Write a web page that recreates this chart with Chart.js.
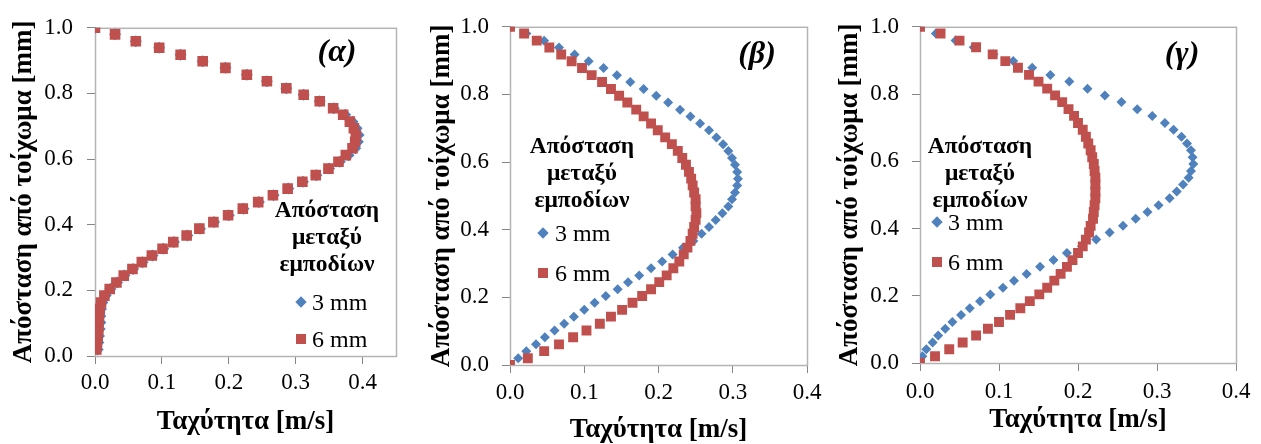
<!DOCTYPE html>
<html lang="el">
<head>
<meta charset="UTF-8" />
<title>Προφίλ ταχύτητας</title>
<script src="https://cdn.jsdelivr.net/npm/chart.js"></script>
<style>
  body {
    margin: 0;
    background: #fff;
    width: 1261px;
    height: 444px;
    position: relative;
    overflow: hidden;
    font-family: 'Liberation Serif', 'Times New Roman', serif;
    color: #000;
  }
  canvas { position: absolute; top: 0; }
  .tag {
    position: absolute;
    font-weight: bold; font-style: italic; font-size: 32px;
    transform: translate(-50%, -50%);
    white-space: nowrap;
  }
  .ltitle {
    position: absolute;
    font-weight: bold; font-size: 23.5px; line-height: 27px;
    text-align: center;
    transform: translateX(-50%);
    white-space: nowrap;
  }
  .entry {
    position: absolute;
    font-size: 24px; line-height: 26px;
    transform: translateY(-50%);
    white-space: nowrap;
  }
  .mk { position: absolute; }
</style>
</head>
<body>

<canvas id="chartA" width="420" height="444" style="left:0px"></canvas>
<canvas id="chartB" width="410" height="444" style="left:420px"></canvas>
<canvas id="chartG" width="431" height="444" style="left:830px"></canvas>

<div class="tag" style="left:337px;top:50px">(α)</div>
<div class="tag" style="left:757px;top:52px">(β)</div>
<div class="tag" style="left:1182px;top:52px">(γ)</div>

<div id="legends"></div>

<script>
// y positions (distance from wall, mm), top to bottom
const Y = [1.000, 0.980, 0.959, 0.939, 0.918, 0.898, 0.878, 0.857, 0.837, 0.816,
           0.796, 0.776, 0.755, 0.735, 0.714, 0.694, 0.673, 0.653, 0.633, 0.612,
           0.592, 0.571, 0.551, 0.531, 0.510, 0.490, 0.469, 0.449, 0.429, 0.408,
           0.388, 0.367, 0.347, 0.327, 0.306, 0.286, 0.265, 0.245, 0.224, 0.204,
           0.184, 0.163, 0.143, 0.122, 0.102, 0.082, 0.061, 0.041, 0.020, 0.000];

const X_TICKS = [0, 0.1, 0.2, 0.3, 0.4];
const Y_TICKS = [0, 0.2, 0.4, 0.6, 0.8, 1.0];
const SERIES = ['3 mm', '6 mm'];

// (α) - both series almost on top of each other, no point at y = 0
const A_3MM = [0, .030, .061, .096, .128, .161, .195, .227, .257, .286,
               .312, .336, .357, .374, .385, .391, .394, .393, .389, .379,
               .366, .350, .331, .311, .289, .267, .245, .222, .200, .178,
               .157, .138, .118, .102, .086, .071, .057, .044, .033, .023,
               .016, .011, .009, .008, .008, .007, .006, .005, .004];
const A_6MM = [0, .030, .061, .096, .128, .161, .195, .227, .257, .286,
               .312, .336, .356, .371, .381, .387, .390, .389, .385, .375,
               .364, .349, .330, .310, .288, .266, .244, .221, .199, .177,
               .156, .137, .117, .101, .085, .070, .056, .043, .032, .022,
               .014, .009, .007, .006, .005, .005, .004, .003, .002];

// (β)
const B_3MM = [0, .022, .046, .066, .087, .106, .126, .144, .162, .180,
               .197, .213, .229, .243, .256, .268, .278, .287, .294, .299,
               .303, .306, .307, .306, .303, .299, .294, .286, .277, .268,
               .258, .247, .233, .219, .205, .190, .174, .159, .145, .129,
               .114, .100, .086, .073, .060, .047, .035, .022, .011, 0];
const B_6MM = [0, .019, .036, .053, .069, .083, .097, .110, .124, .136,
               .147, .158, .170, .180, .190, .199, .209, .218, .226, .232,
               .237, .241, .244, .246, .248, .250, .250, .251, .250, .248,
               .246, .243, .239, .234, .228, .220, .211, .201, .190, .178,
               .165, .151, .136, .121, .103, .085, .066, .046, .024, 0];

// (γ)
const G_3MM = [0, .020, .045, .068, .093, .118, .142, .165, .189, .212,
               .234, .255, .275, .294, .310, .321, .331, .338, .343, .345,
               .346, .343, .340, .333, .325, .316, .302, .288, .273, .257,
               .240, .223, .205, .186, .169, .152, .135, .119, .105, .089,
               .076, .063, .052, .041, .032, .023, .016, .008, .003, 0];
const G_6MM = [0, .026, .050, .071, .092, .108, .124, .138, .150, .161,
               .171, .180, .188, .195, .200, .206, .210, .213, .216, .218,
               .220, .221, .222, .222, .222, .222, .221, .220, .219, .216,
               .214, .210, .206, .200, .193, .186, .178, .170, .161, .151,
               .139, .127, .114, .100, .086, .071, .054, .037, .019, 0];

const BLUE = '#4F81BD';
const RED = '#C0504D';
const AXIS = '#868686';
const FRAME = '#B4B4B4';
const SERIF = "'Liberation Serif', 'Times New Roman', serif";
const TICK_FONT = { family: SERIF, size: 23, lineHeight: 1.2 };
const TITLE_FONT = { family: SERIF, size: 27, weight: 'bold', lineHeight: 1.2 };

const pts = (xs, ys) => xs.map((x, i) => ({ x: x, y: ys[i] }));

// light grey box round the plot area
const frame = {
  id: 'frame',
  beforeDatasetsDraw(chart) {
    const a = chart.chartArea;
    const ctx = chart.ctx;
    ctx.save();
    ctx.strokeStyle = FRAME;
    ctx.lineWidth = 1.5;
    ctx.strokeRect(a.left + 0.5, a.top + 0.5, a.right - a.left, a.bottom - a.top);
    ctx.restore();
  }
};

function panel(id, o) {
  return new Chart(document.getElementById(id), {
    type: 'scatter',
    data: {
      datasets: [
        { label: SERIES[0], data: pts(o.s3, Y), pointStyle: 'rectRot', pointRadius: o.r3,
          pointBackgroundColor: BLUE, pointBorderColor: BLUE, pointBorderWidth: 0, order: 2 },
        { label: SERIES[1], data: pts(o.s6, Y), pointStyle: 'rect', pointRadius: o.r6,
          pointBackgroundColor: RED, pointBorderColor: RED, pointBorderWidth: 0, order: 1 }
      ]
    },
    options: {
      responsive: false,
      animation: false,
      events: [],
      layout: { padding: { top: o.top, right: o.right, left: 0, bottom: 0 } },
      plugins: { legend: { display: false }, tooltip: { enabled: false } },
      scales: {
        x: {
          type: 'linear', min: 0, max: o.xmax,
          afterBuildTicks: s => { s.ticks = X_TICKS.map(v => ({ value: v })); },
          afterFit: s => { s.height = o.xh; },
          ticks: { font: TICK_FONT, color: '#000', padding: o.xpad, maxRotation: 0, autoSkip: false,
                   callback: v => v.toFixed(1) },
          grid: { drawOnChartArea: false, tickLength: 8, color: AXIS },
          border: { color: AXIS },
          title: { display: true, text: 'Ταχύτητα [m/s]', font: TITLE_FONT, color: '#000',
                   padding: { top: 0, bottom: o.xtp } }
        },
        y: {
          type: 'linear', min: 0, max: 1,
          afterBuildTicks: s => { s.ticks = Y_TICKS.map(v => ({ value: v })); },
          afterFit: s => { s.width = o.yw; },
          ticks: { font: TICK_FONT, color: '#000', padding: o.ypad, autoSkip: false,
                   callback: v => v.toFixed(1) },
          grid: { drawOnChartArea: false, tickLength: 8, color: AXIS },
          border: { color: AXIS },
          title: { display: true, text: 'Απόσταση από τοίχωμα [mm]', font: TITLE_FONT, color: '#000',
                   padding: { top: o.ytp, bottom: 0 } }
        }
      }
    },
    plugins: [frame]
  });
}

panel('chartA', { s3: A_3MM, s6: A_6MM, xmax: 0.45, r3: 6, r6: 7.5,
  top: 19, right: 24, xh: 88, yw: 95, xpad: 5, ypad: 14, xtp: 6, ytp: 8 });
panel('chartB', { s3: B_3MM, s6: B_6MM, xmax: 0.4, r3: 5, r6: 7,
  top: 16, right: 23, xh: 79, yw: 90, xpad: 6, ypad: 13, xtp: -2, ytp: 6 });
panel('chartG', { s3: G_3MM, s6: G_6MM, xmax: 0.4, r3: 5, r6: 7,
  top: 17, right: 25, xh: 81, yw: 90, xpad: 7, ypad: 13, xtp: 8, ytp: 4 });

// legend blocks drawn as html
function legend(cx, top, mx, y3, y6, tx) {
  const box = document.getElementById('legends');
  box.insertAdjacentHTML('beforeend',
    `<div class="ltitle" style="left:${cx}px;top:${top}px">Απόσταση<br>μεταξύ<br>εμποδίων</div>` +
    `<div class="mk" style="left:${mx - 4}px;top:${y3 - 4}px;width:8px;height:8px;background:${BLUE};transform:rotate(45deg)"></div>` +
    `<div class="entry" style="left:${tx}px;top:${y3}px">${SERIES[0]}</div>` +
    `<div class="mk" style="left:${mx - 5}px;top:${y6 - 5}px;width:10px;height:10px;background:${RED}"></div>` +
    `<div class="entry" style="left:${tx}px;top:${y6}px">${SERIES[1]}</div>`);
}
legend(327, 196, 301, 302, 339, 312);
legend(582, 132, 543, 233, 273, 555);
legend(980, 132, 937, 222, 262, 948);
</script>

</body>
</html>
